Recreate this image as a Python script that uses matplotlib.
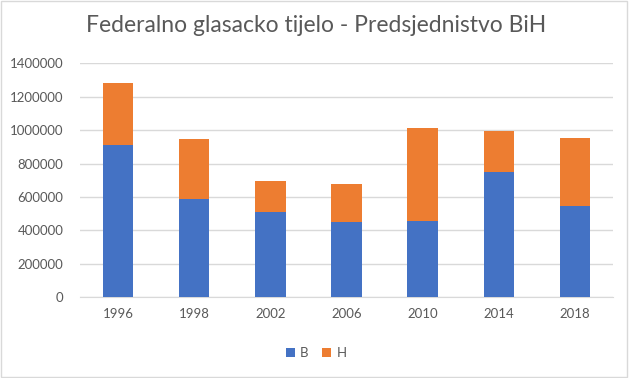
import matplotlib.pyplot as plt
from matplotlib.patches import Rectangle
from matplotlib.ticker import StrMethodFormatter

years = ['1996', '1998', '2002', '2006', '2010', '2014', '2018']
b_votes = [911000, 588000, 508000, 452000, 458000, 748000, 548000]
h_votes = [373000, 357000, 190000, 224000, 557000, 245000, 403000]

plt.rcParams['font.family'] = ['Lato', 'DejaVu Sans']

fig = plt.figure(figsize=(6.32, 3.78), dpi=100)
ax = fig.add_axes([80 / 632, 1 - 297.3 / 378, 533 / 632, 234 / 378])

x = list(range(len(years)))
ax.bar(x, b_votes, width=0.4, color='#4472C4', label='B', zorder=3)
ax.bar(x, h_votes, width=0.4, bottom=b_votes, color='#ED7D31', label='H', zorder=3)

ax.set_xlim(-0.5, len(years) - 0.5)
ax.set_ylim(0, 1400000)
ax.set_yticks(range(0, 1400001, 200000))
ax.yaxis.set_major_formatter(StrMethodFormatter('{x:.0f}'))
ax.set_xticks(x)
ax.set_xticklabels(years)
ax.yaxis.grid(True, color='#D9D9D9', linewidth=1, zorder=0)
for s in ax.spines.values():
    s.set_visible(False)
ax.spines['bottom'].set_visible(True)
ax.spines['bottom'].set_color('#D9D9D9')
ax.tick_params(length=0, colors='#595959', labelsize=9.5)
ax.tick_params(axis='x', pad=8)
ax.tick_params(axis='y', pad=12)

fig.text(0.5, 1 - 25 / 378, 'Federalno glasacko tijelo - Predsjednistvo BiH',
         ha='center', va='center', fontsize=16.5, color='#595959')

fig.legend(loc='center', bbox_to_anchor=(0.5, 1 - 353 / 378), ncol=2, frameon=False,
           fontsize=9.5, labelcolor='#595959', handlelength=0.7, handleheight=0.7,
           handletextpad=0.4, columnspacing=1.0)

fig.patches.append(Rectangle((0.002, 0.003), 0.99, 0.994, transform=fig.transFigure,
                             fill=False, edgecolor='#D9D9D9', linewidth=1))

fig.savefig('out.png', dpi=100)
